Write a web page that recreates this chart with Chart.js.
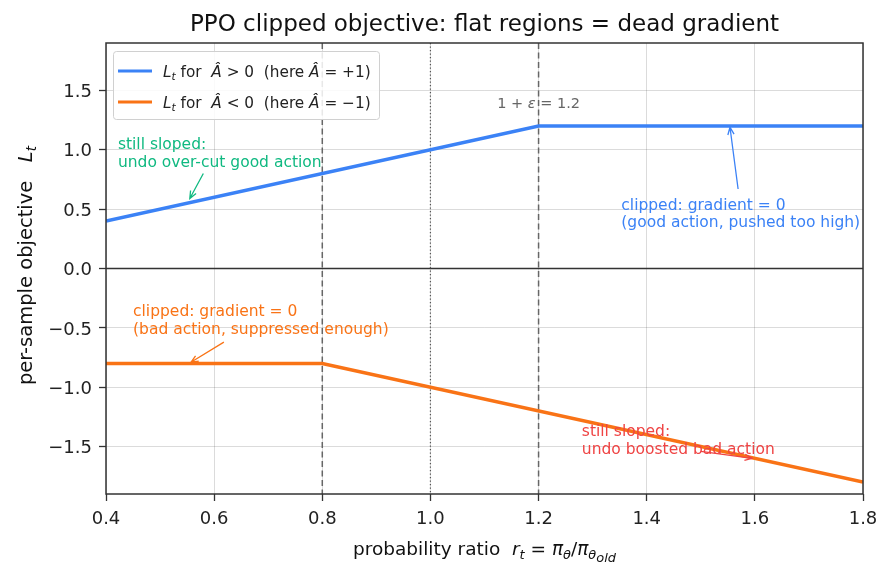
<!DOCTYPE html>
<html>
<head>
<meta charset="utf-8">
<script src="https://cdn.jsdelivr.net/npm/chart.js@4.4.1/dist/chart.umd.min.js"></script>
<style>
  html, body { margin: 0; padding: 0; background: #fff; }
  #wrap { width: 894px; height: 575px; }
</style>
</head>
<body>
<div id="wrap"><canvas id="ppoChart" width="894" height="575"></canvas></div>
<script>
  // data
  var posRatio = [0.4, 1.2, 1.8];
  var posObjective = [0.4, 1.2, 1.2];
  var negRatio = [0.4, 0.8, 1.8];
  var negObjective = [-0.8, -0.8, -1.8];
  var xTicks = [0.4, 0.6, 0.8, 1.0, 1.2, 1.4, 1.6, 1.8];
  var yTicks = [-1.5, -1.0, -0.5, 0.0, 0.5, 1.0, 1.5];
  var clipLines = [0.8, 1.2];
  var centreLine = 1.0;

  var BLUE = '#3b82f6';
  var ORANGE = '#f97316';
  var GREEN = '#10b981';
  var RED = '#ef4444';
  var FONT = '"DejaVu Sans", sans-serif';
  var NOTE_SIZE = 15.5;

  function toPoints(xs, ys) {
    var pts = [];
    for (var i = 0; i < xs.length; i++) {
      pts.push({ x: xs[i], y: ys[i] });
    }
    return pts;
  }

  function fmt(v) {
    return v.toFixed(1).replace('-', '\u2212');
  }

  // parts: {t, it, sub}
  function richWidth(ctx, parts, size) {
    var w = 0;
    parts.forEach(function (p) {
      var s = p.sub ? size * 0.7 : size;
      ctx.font = (p.it ? 'italic ' : '') + s + 'px ' + FONT;
      w += ctx.measureText(p.t).width;
    });
    return w;
  }

  function drawRich(ctx, parts, x, y, size, color, align) {
    var w = richWidth(ctx, parts, size);
    var cx = align === 'center' ? x - w / 2 : x;
    ctx.fillStyle = color;
    ctx.textBaseline = 'alphabetic';
    ctx.textAlign = 'left';
    parts.forEach(function (p) {
      var s = p.sub ? size * 0.7 : size;
      ctx.font = (p.it ? 'italic ' : '') + s + 'px ' + FONT;
      ctx.fillText(p.t, cx, y + (p.sub ? size * 0.22 : 0) + (p.sub2 ? size * 0.15 : 0));
      cx += ctx.measureText(p.t).width;
    });
  }

  function arrow(ctx, x1, y1, x2, y2, color) {
    ctx.save();
    ctx.strokeStyle = color;
    ctx.lineWidth = 1.3;
    ctx.beginPath();
    ctx.moveTo(x1, y1);
    ctx.lineTo(x2, y2);
    var a = Math.atan2(y2 - y1, x2 - x1);
    var h = 8;
    ctx.moveTo(x2 - h * Math.cos(a - 0.4), y2 - h * Math.sin(a - 0.4));
    ctx.lineTo(x2, y2);
    ctx.lineTo(x2 - h * Math.cos(a + 0.4), y2 - h * Math.sin(a + 0.4));
    ctx.stroke();
    ctx.restore();
  }

  function note(ctx, xs, ys, lines, tx, ty, ax1, ay1, ax2, ay2, color) {
    ctx.save();
    ctx.font = NOTE_SIZE + 'px ' + FONT;
    ctx.fillStyle = color;
    ctx.textAlign = 'left';
    ctx.textBaseline = 'middle';
    var px = xs.getPixelForValue(tx);
    var py = ys.getPixelForValue(ty);
    for (var i = 0; i < lines.length; i++) {
      ctx.fillText(lines[i], px, py + i * 17.5);
    }
    ctx.restore();
    arrow(ctx, xs.getPixelForValue(ax1), ys.getPixelForValue(ay1),
      xs.getPixelForValue(ax2), ys.getPixelForValue(ay2), color);
  }

  var refLines = {
    id: 'refLines',
    beforeDatasetsDraw: function (chart) {
      var ctx = chart.ctx;
      var xs = chart.scales.x;
      var ys = chart.scales.y;
      var area = chart.chartArea;
      ctx.save();
      // zero line
      ctx.strokeStyle = '#333';
      ctx.lineWidth = 1.5;
      ctx.beginPath();
      var y0 = ys.getPixelForValue(0);
      ctx.moveTo(area.left, y0);
      ctx.lineTo(area.right, y0);
      ctx.stroke();
      // clip boundaries
      ctx.strokeStyle = '#666';
      ctx.lineWidth = 1.5;
      ctx.setLineDash([6, 3.5]);
      clipLines.forEach(function (v) {
        var px = xs.getPixelForValue(v);
        ctx.beginPath();
        ctx.moveTo(px, area.top);
        ctx.lineTo(px, area.bottom);
        ctx.stroke();
      });
      ctx.strokeStyle = '#555';
      ctx.lineWidth = 1.2;
      ctx.setLineDash([1.3, 2.2]);
      var pc = xs.getPixelForValue(centreLine);
      ctx.beginPath();
      ctx.moveTo(pc, area.top);
      ctx.lineTo(pc, area.bottom);
      ctx.stroke();
      ctx.restore();
    },
    afterDraw: function (chart) {
      var ctx = chart.ctx;
      var xs = chart.scales.x;
      var ys = chart.scales.y;
      var area = chart.chartArea;

      // frame
      ctx.save();
      ctx.strokeStyle = '#333';
      ctx.lineWidth = 1.5;
      ctx.strokeRect(area.left, area.top, area.right - area.left, area.bottom - area.top);
      ctx.restore();

      // clip label
      drawRich(ctx, [{ t: '1 + ' }, { t: '\u03b5', it: true }, { t: ' = 1.2' }],
        xs.getPixelForValue(1.2), ys.getPixelForValue(1.35), 14.5, '#666', 'center');

      // annotations
      note(ctx, xs, ys, ['still sloped:', 'undo over-cut good action'], 0.422, 1.04, 0.58, 0.8, 0.555, 0.59, GREEN);
      note(ctx, xs, ys, ['clipped: gradient = 0', '(good action, pushed too high)'], 1.353, 0.53, 1.569, 0.67, 1.554, 1.19, BLUE);
      note(ctx, xs, ys, ['clipped: gradient = 0', '(bad action, suppressed enough)'], 0.45, -0.37, 0.618, -0.62, 0.557, -0.79, ORANGE);
      note(ctx, xs, ys, ['still sloped:', 'undo boosted bad action'], 1.28, -1.38, 1.5, -1.54, 1.595, -1.6, RED);

      // legend
      ctx.save();
      var lx = 113, ly = 51, lw = 266, lh = 68;
      ctx.fillStyle = 'rgba(255,255,255,0.85)';
      ctx.strokeStyle = '#d0d0d0';
      ctx.lineWidth = 1;
      ctx.beginPath();
      ctx.roundRect(lx + 0.5, ly + 0.5, lw, lh, 3);
      ctx.fill();
      ctx.stroke();
      var entries = [
        { color: BLUE, sign: ' > 0  (here ', val: ' = +1)' },
        { color: ORANGE, sign: ' < 0  (here ', val: ' = \u22121)' }
      ];
      entries.forEach(function (e, i) {
        var yy = ly + 20 + i * 31;
        ctx.strokeStyle = e.color;
        ctx.lineWidth = 3.2;
        ctx.beginPath();
        ctx.moveTo(lx + 5, yy);
        ctx.lineTo(lx + 39, yy);
        ctx.stroke();
        drawRich(ctx, [{ t: 'L', it: true }, { t: 't', it: true, sub: true }, { t: ' for  ' },
          { t: '\u00c2', it: true }, { t: e.sign }, { t: '\u00c2', it: true }, { t: e.val }],
          lx + 50, yy + 5.5, 15.3, '#222', 'left');
      });
      ctx.restore();

      // title
      ctx.save();
      ctx.font = '23px ' + FONT;
      ctx.fillStyle = '#111';
      ctx.textAlign = 'center';
      ctx.textBaseline = 'alphabetic';
      ctx.fillText('PPO clipped objective: flat regions = dead gradient', (area.left + area.right) / 2, 31);
      ctx.restore();

      // x axis title
      drawRich(ctx, [{ t: 'probability ratio  ' }, { t: 'r', it: true }, { t: 't', it: true, sub: true },
        { t: ' = ' }, { t: '\u03c0', it: true }, { t: '\u03b8', it: true, sub: true }, { t: '/' },
        { t: '\u03c0', it: true }, { t: '\u03b8', it: true, sub: true }, { t: 'old', it: true, sub: true, sub2: true }],
        (area.left + area.right) / 2, 555, 18.5, '#111', 'center');

      // y axis title
      ctx.save();
      ctx.translate(32, (area.top + area.bottom) / 2 - 3);
      ctx.rotate(-Math.PI / 2);
      drawRich(ctx, [{ t: 'per-sample objective   ' }, { t: 'L', it: true }, { t: 't', it: true, sub: true }],
        0, 0, 19.5, '#111', 'center');
      ctx.restore();
    }
  };

  var ctx = document.getElementById('ppoChart').getContext('2d');
  var ppoChart = new Chart(ctx, {
    type: 'line',
    data: {
      datasets: [{
        label: 'L_t for A > 0 (here A = +1)',
        data: toPoints(posRatio, posObjective),
        borderColor: BLUE,
        borderWidth: 3.5,
        pointRadius: 0,
        tension: 0
      }, {
        label: 'L_t for A < 0 (here A = -1)',
        data: toPoints(negRatio, negObjective),
        borderColor: ORANGE,
        borderWidth: 3.5,
        pointRadius: 0,
        tension: 0
      }]
    },
    options: {
      responsive: false,
      animation: false,
      layout: { padding: { left: 0, right: 31, top: 43, bottom: 0 } },
      plugins: {
        legend: { display: false },
        title: { display: false },
        tooltip: { enabled: false }
      },
      scales: {
        x: {
          type: 'linear',
          min: 0.4,
          max: 1.8,
          afterBuildTicks: function (scale) {
            scale.ticks = xTicks.map(function (v) { return { value: v }; });
          },
          afterFit: function (scale) { scale.height = 81; },
          grid: { color: 'rgba(0,0,0,0.14)', tickColor: '#333', tickLength: 7, tickWidth: 1.3 },
          border: { display: false },
          ticks: {
            color: '#222',
            font: { family: FONT, size: 18 },
            padding: 8,
            maxRotation: 0,
            callback: function (v) { return fmt(v); }
          }
        },
        y: {
          type: 'linear',
          min: -1.9,
          max: 1.9,
          afterBuildTicks: function (scale) {
            scale.ticks = yTicks.map(function (v) { return { value: v }; });
          },
          afterFit: function (scale) { scale.width = 106; },
          grid: { color: 'rgba(0,0,0,0.14)', tickColor: '#333', tickLength: 7, tickWidth: 1.3 },
          border: { display: false },
          ticks: {
            color: '#222',
            font: { family: FONT, size: 18 },
            padding: 7,
            labelOffset: 2,
            callback: function (v) { return fmt(v); }
          }
        }
      }
    },
    plugins: [refLines]
  });
</script>
</body>
</html>
